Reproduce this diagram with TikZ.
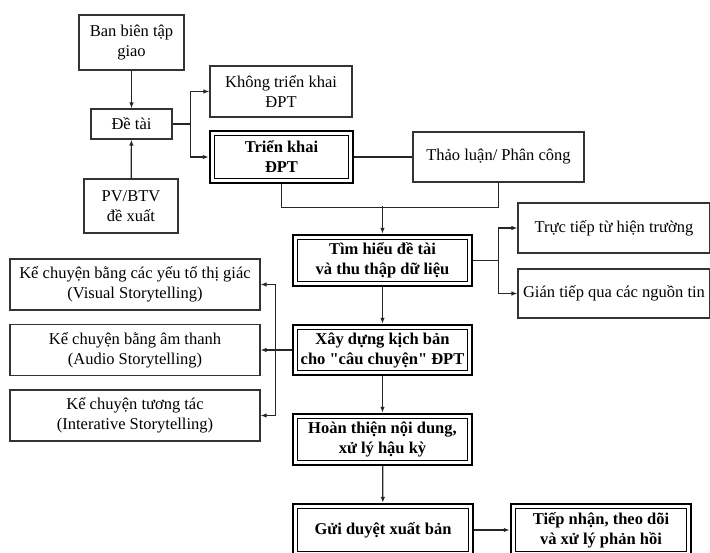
\documentclass[tikz,border=0pt]{standalone}
\usepackage{fontspec}
\setmainfont{Liberation Serif}[Ligatures=TeXOff]
\usetikzlibrary{arrows.meta}
\begin{document}
\begin{tikzpicture}[x=1pt,y=-1pt,
  every node/.style={font=\fontsize{16.5}{20}\selectfont, align=center, inner sep=0pt},
  thinbox/.style={draw=black!80, line width=1.2pt},
  mainbox/.style={draw=black, line width=2.4pt, font=\fontsize{16.5}{20}\selectfont\bfseries,
    path picture={\draw[black, line width=0.9pt]
      ([shift={(4.2pt,-4.2pt)}]path picture bounding box.north west) rectangle
      ([shift={(-4.2pt,4.2pt)}]path picture bounding box.south east);}},
  conn/.style={draw=black!85, line width=1.2pt},
  arr/.style={conn, -{Latex[length=6pt,width=4.5pt]}}
]
\useasboundingbox[fill=white] (0,0) rectangle (710,553);

% top-left nodes
\node[thinbox, minimum width=105pt, minimum height=55pt] (ban) at (131.5,42.5) {Ban biên tập\\giao};
\node[thinbox, minimum width=81pt, minimum height=30pt] (detai) at (131.5,124) {Đề tài};
\node[thinbox, minimum width=94pt, minimum height=54pt] (pv) at (131,206) {PV/BTV\\đề xuất};
\node[thinbox, minimum width=142pt, minimum height=51pt] (khong) at (281,91.5) {Không triển khai\\ĐPT};
\node[mainbox, minimum width=143pt, minimum height=52pt] (trien) at (281.5,157) {Triển khai\\ĐPT};
\node[thinbox, minimum width=171pt, minimum height=50pt] (thao) at (498.5,157) {Thảo luận/ Phân công};

% main column
\node[mainbox, minimum width=179pt, minimum height=51pt] (tim) at (382.5,260.5) {Tìm hiểu đề tài\\và thu thập dữ liệu};
\node[mainbox, minimum width=179pt, minimum height=50pt] (xay) at (382.5,350) {Xây dựng kịch bản\\cho "câu chuyện" ĐPT};
\node[mainbox, minimum width=179pt, minimum height=51pt] (hoan) at (382.5,439.5) {Hoàn thiện nội dung,\\xử lý hậu kỳ};
\node[mainbox, minimum width=180pt, minimum height=52pt] (gui) at (383,530) {Gửi duyệt xuất bản};
\node[mainbox, minimum width=180pt, minimum height=52pt] (tiep) at (601,530) {Tiếp nhận, theo dõi\\và xử lý phản hồi};

% right nodes
\node[thinbox, minimum width=192pt, minimum height=50pt] (truc) at (614,228) {Trực tiếp từ hiện trường};
\node[thinbox, minimum width=192pt, minimum height=49pt] (gian) at (614,293.5) {Gián tiếp qua các nguồn tin};

% left nodes
\node[thinbox, minimum width=250pt, minimum height=51pt] (visual) at (135,284.5) {Kể chuyện bằng các yếu tố thị giác\\(Visual Storytelling)};
\node[thinbox, minimum width=250pt, minimum height=51pt] (audio) at (135,350) {Kể chuyện bằng âm thanh\\(Audio Storytelling)};
\node[thinbox, minimum width=250pt, minimum height=51pt] (inter) at (135,415.5) {Kể chuyện tương tác\\(Interative Storytelling)};

% connectors
\draw[arr] (ban) -- (detai);
\draw[arr] (pv) -- (detai);
\draw[arr] (detai.east) -- ++(18,0) |- (khong.west);
\draw[arr] (detai.east) -- ++(18,0) |- (trien.west);
\draw[conn] (trien.east) -- (thao.west);
\coordinate (j1) at (382.5,206);
\draw[conn] (trien.south) -- ++(0,23) -| (thao.south);
\draw[arr] (j1) -- (tim.north);
\draw[arr] (tim.east) -- ++(25,0) |- (truc.west);
\draw[arr] (tim.east) -- ++(25,0) |- (gian.west);
\draw[arr] (xay.west) -- ++(-16,0) |- (visual.east);
\draw[arr] (xay.west) -- (audio.east);
\draw[arr] (xay.west) -- ++(-16,0) |- (inter.east);
\draw[arr] (tim) -- (xay);
\draw[arr] (xay) -- (hoan);
\draw[arr] (hoan) -- (gui);
\draw[arr] (gui) -- (tiep);
\end{tikzpicture}
\end{document}
